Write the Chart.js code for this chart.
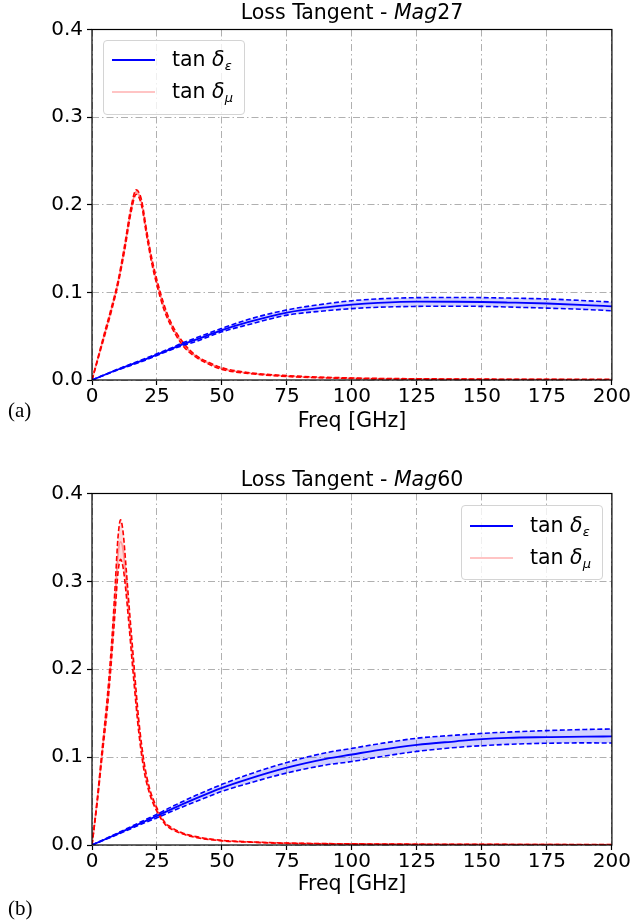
<!DOCTYPE html>
<html lang="en">
<head>
    <meta charset="UTF-8">
    <title>Loss Tangent - Mag27 / Mag60</title>
    <script src="https://cdn.jsdelivr.net/npm/chart.js"></script>
    <style>
        body {
            margin: 0;
            background: #ffffff;
            font-family: "DejaVu Sans", sans-serif;
        }
        .panel {
            position: absolute;
            left: 0;
            width: 631px;
            height: 460px;
        }
        .panel canvas {
            position: absolute;
            left: 0;
            top: 0;
        }
        .title {
            position: absolute;
            left: 92px;
            width: 520px;
            text-align: center;
            font-size: 20.5px;
            line-height: 24px;
            color: #000;
        }
        .legend {
            position: absolute;
            width: 140px;
            height: 73px;
            border: 1px solid #d4d4d4;
            border-radius: 4px;
            background: rgba(255, 255, 255, 0.8);
        }
        .legend .swatch {
            position: absolute;
            left: 8px;
            width: 43px;
            height: 2px;
        }
        .legend .lbl {
            position: absolute;
            left: 68px;
            font-size: 20.5px;
            line-height: 24px;
            white-space: nowrap;
        }
        .legend sub {
            font-size: 13px;
            vertical-align: -4px;
        }
        .tag {
            position: absolute;
            left: 8px;
            font-family: "Liberation Serif", serif;
            font-size: 21px;
            line-height: 24px;
        }
    </style>
</head>
<body>
    <div class="panel" style="top:0">
        <canvas id="chartA" width="631" height="460"></canvas>
        <div class="title" style="top:0px">Loss Tangent - <i>Mag</i>27</div>
        <div class="legend" style="left:103px; top:40px">
            <div class="swatch" style="top:18px; background:#0000ff"></div>
            <div class="lbl" style="top:6px">tan <i>δ</i><sub><i>ε</i></sub></div>
            <div class="swatch" style="top:50px; background:#ffc4c4"></div>
            <div class="lbl" style="top:38px">tan <i>δ</i><sub><i>μ</i></sub></div>
        </div>
        <div class="tag" style="top:398px">(a)</div>
    </div>
    <div class="panel" style="top:460px">
        <canvas id="chartB" width="631" height="460"></canvas>
        <div class="title" style="top:7px">Loss Tangent - <i>Mag</i>60</div>
        <div class="legend" style="left:461px; top:45px">
            <div class="swatch" style="top:19px; background:#0000ff"></div>
            <div class="lbl" style="top:7px">tan <i>δ</i><sub><i>ε</i></sub></div>
            <div class="swatch" style="top:51px; background:#ffc4c4"></div>
            <div class="lbl" style="top:39px">tan <i>δ</i><sub><i>μ</i></sub></div>
        </div>
        <div class="tag" style="top:436px">(b)</div>
    </div>

    <script>
        // axis ticks
        const freqTicks = [0, 25, 50, 75, 100, 125, 150, 175, 200];
        const lossTicks = [0.0, 0.1, 0.2, 0.3, 0.4];

        // Mag27 - tan delta_mu (magnetic)
        const freqMuA = [0, 2.5, 5, 7.5, 10, 12.5, 15, 17, 19, 21, 23, 25, 27.5, 30, 35, 40, 45, 50, 60, 75, 100, 125, 150, 175, 200];
        const muMeanA = [0, 0.027, 0.054, 0.081, 0.111, 0.150, 0.194, 0.215, 0.203, 0.168, 0.136, 0.111, 0.085, 0.066, 0.041, 0.027, 0.019, 0.013, 0.008, 0.0045, 0.002, 0.0012, 0.0008, 0.0006, 0.0005];
        const muHighA = [0, 0.028, 0.056, 0.083, 0.113, 0.153, 0.197, 0.217, 0.206, 0.171, 0.139, 0.114, 0.088, 0.068, 0.043, 0.028, 0.020, 0.014, 0.0085, 0.005, 0.0023, 0.0014, 0.001, 0.0008, 0.0007];
        const muLowA = [0, 0.026, 0.052, 0.079, 0.109, 0.147, 0.191, 0.212, 0.200, 0.165, 0.133, 0.108, 0.082, 0.064, 0.039, 0.026, 0.018, 0.012, 0.0075, 0.004, 0.0017, 0.001, 0.0006, 0.0004, 0.0003];

        // Mag27 - tan delta_eps (dielectric)
        const freqEpsA = [0, 10, 20, 25, 30, 35, 40, 50, 60, 75, 90, 100, 110, 125, 140, 150, 160, 175, 190, 200];
        const epsMeanA = [0, 0.012, 0.023, 0.029, 0.035, 0.041, 0.046, 0.057, 0.066, 0.077, 0.083, 0.086, 0.088, 0.0895, 0.0893, 0.089, 0.0884, 0.0873, 0.0855, 0.084];
        const epsHighA = [0, 0.0125, 0.024, 0.030, 0.036, 0.0425, 0.048, 0.059, 0.069, 0.080, 0.087, 0.0905, 0.0925, 0.094, 0.0942, 0.094, 0.0935, 0.0925, 0.0905, 0.089];
        const epsLowA = [0, 0.0115, 0.022, 0.028, 0.034, 0.0395, 0.044, 0.055, 0.063, 0.074, 0.079, 0.0815, 0.083, 0.084, 0.0842, 0.084, 0.0833, 0.082, 0.0805, 0.079];

        // Mag60 - tan delta_mu
        const freqMuB = [0, 2, 4, 6, 7, 8, 9, 10, 11, 12, 13, 14, 16, 18, 20, 22, 25, 28, 30, 35, 40, 50, 60, 75, 100, 125, 150, 175, 200];
        const muMeanB = [0, 0.050, 0.108, 0.165, 0.200, 0.240, 0.285, 0.330, 0.345, 0.335, 0.305, 0.270, 0.200, 0.135, 0.090, 0.063, 0.040, 0.025, 0.020, 0.013, 0.009, 0.005, 0.0035, 0.002, 0.0012, 0.0008, 0.0006, 0.0005, 0.0004];
        const muHighB = [0, 0.052, 0.112, 0.172, 0.208, 0.250, 0.300, 0.350, 0.370, 0.355, 0.320, 0.282, 0.210, 0.142, 0.095, 0.066, 0.042, 0.026, 0.021, 0.0135, 0.0095, 0.0053, 0.0037, 0.0022, 0.0013, 0.0009, 0.0007, 0.0006, 0.0005];
        const muLowB = [0, 0.048, 0.104, 0.158, 0.192, 0.230, 0.270, 0.310, 0.325, 0.315, 0.290, 0.258, 0.190, 0.128, 0.085, 0.060, 0.038, 0.024, 0.019, 0.0125, 0.0085, 0.0047, 0.0033, 0.0018, 0.0011, 0.0007, 0.0005, 0.0004, 0.0003];

        // Mag60 - tan delta_eps
        const freqEpsB = [0, 10, 20, 25, 30, 40, 50, 60, 75, 90, 100, 110, 125, 140, 150, 160, 175, 190, 200];
        const epsMeanB = [0, 0.013, 0.0265, 0.033, 0.040, 0.053, 0.065, 0.075, 0.088, 0.098, 0.103, 0.108, 0.114, 0.118, 0.1205, 0.122, 0.1228, 0.1234, 0.1235];
        const epsHighB = [0, 0.0138, 0.028, 0.035, 0.0425, 0.0565, 0.069, 0.080, 0.094, 0.105, 0.110, 0.115, 0.1215, 0.125, 0.127, 0.1285, 0.1302, 0.1315, 0.132];
        const epsLowB = [0, 0.0122, 0.025, 0.031, 0.0375, 0.0495, 0.061, 0.070, 0.082, 0.091, 0.095, 0.100, 0.1065, 0.111, 0.113, 0.1145, 0.1158, 0.1162, 0.116];

        const toPoints = (xs, ys) => xs.map((x, i) => ({ x: x, y: ys[i] }));

        // builds the datasets for one band: upper/lower edges (dashed, filled between) + mean line
        function bandSets(freq, mean, high, low, edgeColor, fillColor, meanColor) {
            const base = { pointRadius: 0, cubicInterpolationMode: 'monotone', borderWidth: 1.6 };
            return [
                { ...base, data: toPoints(freq, high), borderColor: edgeColor, borderDash: [5, 2.5], fill: false },
                { ...base, data: toPoints(freq, low), borderColor: edgeColor, borderDash: [5, 2.5], fill: '-1', backgroundColor: fillColor },
                { ...base, data: toPoints(freq, mean), borderColor: meanColor, borderWidth: 1.8, fill: false }
            ];
        }

        // black box round the plot area (matplotlib spines)
        const frame = {
            id: 'frame',
            afterDatasetsDraw(chart) {
                const { ctx, chartArea: a } = chart;
                ctx.save();
                ctx.strokeStyle = '#000';
                ctx.lineWidth = 1.2;
                ctx.strokeRect(a.left, a.top, a.right - a.left, a.bottom - a.top);
                ctx.restore();
            }
        };

        function makeChart(id, datasets, padTop, xHeight, titlePad) {
            const tickFont = { family: 'DejaVu Sans', size: 20 };
            const gridOpts = {
                color: '#b0b0b0', lineWidth: 1,
                tickLength: 5, tickColor: '#000', tickWidth: 1.2, tickBorderDash: []
            };
            // in v4 the grid line dash is read from border.dash
            const borderOpts = { display: false, dash: [7, 3, 1.5, 3] };
            return new Chart(document.getElementById(id), {
                type: 'line',
                data: { datasets: datasets },
                options: {
                    responsive: false,
                    animation: false,
                    devicePixelRatio: 1,
                    layout: { padding: { left: 0, right: 19, top: padTop, bottom: 0 } },
                    plugins: { legend: { display: false }, tooltip: { enabled: false } },
                    scales: {
                        x: {
                            type: 'linear',
                            min: 0,
                            max: 200,
                            afterBuildTicks: (s) => { s.ticks = freqTicks.map(v => ({ value: v })); },
                            afterFit: (s) => { s.height = xHeight; },
                            border: borderOpts,
                            grid: gridOpts,
                            ticks: { font: tickFont, color: '#000', padding: 0, maxRotation: 0 },
                            title: {
                                display: true, text: 'Freq [GHz]', color: '#000',
                                font: { family: 'DejaVu Sans', size: 20.5 }, padding: { top: 0, bottom: titlePad }
                            }
                        },
                        y: {
                            min: 0,
                            max: 0.4,
                            afterBuildTicks: (s) => { s.ticks = lossTicks.map(v => ({ value: v })); },
                            afterFit: (s) => { s.width = 92; },
                            border: borderOpts,
                            grid: gridOpts,
                            ticks: { font: tickFont, color: '#000', padding: 4, callback: (v) => v.toFixed(1) }
                        }
                    }
                },
                plugins: [frame]
            });
        }

        const blueEdge = '#0000ff', blueFill = 'rgba(0, 0, 255, 0.18)', blueMean = '#0000ff';
        const redEdge = '#ff0000', redFill = 'rgba(255, 0, 0, 0.15)', redMean = 'rgba(255, 0, 0, 0.3)';

        makeChart('chartA', [
            ...bandSets(freqEpsA, epsMeanA, epsHighA, epsLowA, blueEdge, blueFill, blueMean),
            ...bandSets(freqMuA, muMeanA, muHighA, muLowA, redEdge, redFill, redMean)
        ], 29.5, 80, 26);

        makeChart('chartB', [
            ...bandSets(freqEpsB, epsMeanB, epsHighB, epsLowB, blueEdge, blueFill, blueMean),
            ...bandSets(freqMuB, muMeanB, muHighB, muLowB, redEdge, redFill, redMean)
        ], 33.5, 75, 23);
    </script>
</body>
</html>
